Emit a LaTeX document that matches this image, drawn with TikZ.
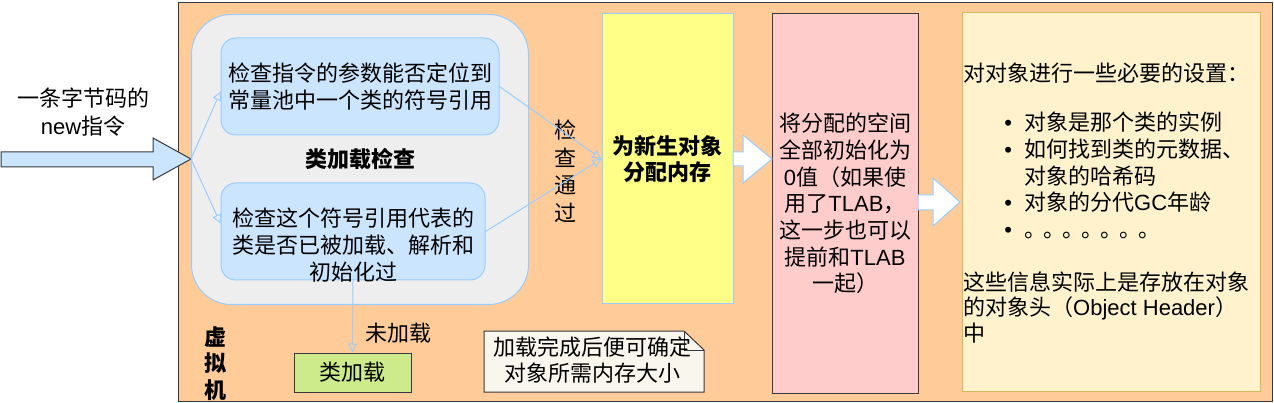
\documentclass[tikz,border=0pt]{standalone}
\usepackage{fontspec}
\setmainfont{Noto Sans CJK SC}
\newfontfamily\lat{Liberation Sans}
\usetikzlibrary{arrows.meta}
\definecolor{vmbg}{HTML}{FFCC99}
\definecolor{groupbg}{HTML}{EEEEEE}
\definecolor{blueline}{HTML}{99CCFF}
\definecolor{bluefill}{HTML}{CCE5FF}
\definecolor{allocfill}{HTML}{FFFF88}
\definecolor{initfill}{HTML}{FFCCCC}
\definecolor{setupfill}{HTML}{FFF2CC}
\definecolor{setupline}{HTML}{D6B656}
\definecolor{loadfill}{HTML}{CDEB8B}
\definecolor{notefill}{HTML}{F9F7ED}
\definecolor{darkline}{HTML}{36393D}
\newcommand\itemdot{\makebox[16pt]{\lat •}\hspace{8pt}}

\begin{document}
\begin{tikzpicture}[x=1pt,y=-1pt,>={Triangle[open,length=9pt,width=9pt]},
  every node/.style={font=\fontsize{22}{27}\selectfont, inner sep=0pt, align=center},
  box/.style={draw=darkline, line width=1pt},
  bluebox/.style={draw=blueline, line width=1pt, fill=bluefill, rounded corners=15pt},
  flow/.style={->, draw=blueline, line width=1pt},
  fat/.style={draw=blueline, fill=white, line width=1pt}]
\useasboundingbox (0,0) rectangle (1274,403);
\node[box, fill=vmbg, anchor=north west, minimum width=1094pt, minimum height=399pt] (vm) at (178,2) {};
\node[draw=blueline, line width=1pt, fill=groupbg, rounded corners=40pt, anchor=north west, minimum width=337pt, minimum height=290pt] (check) at (191,14) {};
\node[bluebox, minimum width=278pt, minimum height=97pt] (ref) at (360,86.5) {检查指令的参数能否定位到\\常量池中一个类的符号引用};
\node[bluebox, minimum width=264pt, minimum height=97pt] (loaded) at (353,231.5) {};
\node (loadedT) at (353,245) {检查这个符号引用代表的\\类是否已被加载、解析和\\初始化过};
\node[font=\fontsize{22}{27}\selectfont\bfseries] (checkT) at (360,159) {类加载检查};
\node[box, fill=loadfill, minimum width=117pt, minimum height=39pt] (load) at (352.5,372.5) {类加载};
\node (notT) at (398,333) {未加载};
\node[font=\fontsize{22}{26.5}\selectfont\bfseries] (vmT) at (215,363.5) {虚\\拟\\机};
\node[font=\fontsize{22}{27.5}\selectfont] (passT) at (565,171.5) {检\\查\\通\\过};
\node[draw=blueline, line width=1pt, fill=allocfill, minimum width=131pt, minimum height=290pt, font=\fontsize{22}{26}\selectfont\bfseries] (alloc) at (667.5,159) {为新生对象\\分配内存};
\node[box, fill=initfill, minimum width=146pt, minimum height=379pt, font=\fontsize{22}{26.7}\selectfont] (init) at (845,203.5) {将分配的空间\\全部初始化为\\{\lat 0}值（如果使\\用了{\lat TLAB}，\\这一步也可以\\提前和{\lat TLAB}\\一起）};
\node[draw=setupline, line width=1pt, fill=setupfill, minimum width=298pt, minimum height=378pt] (setup) at (1111,202) {};
\node[anchor=west] (setupH) at (963,73) {对对象进行一些必要的设置：};
\node[anchor=west, align=left, font=\fontsize{22}{26.75}\selectfont] (setupL) at (1000,175.5) {\itemdot 对象是那个类的实例\\\itemdot 如何找到类的元数据、\\\hspace{24pt}对象的哈希码\\\itemdot 对象的分代{\lat GC}年龄\\\itemdot 。\kern-3pt。\kern-3pt。\kern-3pt。\kern-3pt。\kern-3pt。\kern-3pt。};
\node[anchor=west, align=left, font=\fontsize{22}{25.5}\selectfont] (setupF) at (963,307.5) {这些信息实际上是存放在对象\\的对象头（{\lat Object Header}）\\中};
\draw[box, fill=notefill] (484,331) -- (684,331) -- (704,350) -- (704,392) -- (484,392) -- cycle;
\draw[box] (684,331) -- (684,350) -- (704,350);
\node[font=\fontsize{22}{26}\selectfont] (noteT) at (592,360) {加载完成后便可确定\\对象所需内存大小};
\draw[box, fill=bluefill] (1,152) -- (153,152) -- (153,138) -- (191,159) -- (153,180) -- (153,167) -- (1,167) -- cycle;
\coordinate (tip) at (191,159);
\node[font=\fontsize{22}{28}\selectfont] (instr) at (83,112) {一条字节码的\\{\lat new}指令};
\draw[flow] (tip) -- ([yshift=-5pt]ref.west);
\draw[flow] (tip) -- ([yshift=8pt]loaded.west);
\draw[flow] (ref.east) -- (alloc.west);
\draw[flow] (loaded.east) -- (alloc.west);
\draw[flow] (loaded.south) -- (load.north);
\draw[fat] (733,152) -- (743,152) -- (743,135) -- (772,159) -- (743,183) -- (743,166) -- (733,166) -- cycle;
\draw[fat] (918,195) -- (933,195) -- (933,178) -- (960,202) -- (933,226) -- (933,210) -- (918,210) -- cycle;
\end{tikzpicture}
\end{document}
